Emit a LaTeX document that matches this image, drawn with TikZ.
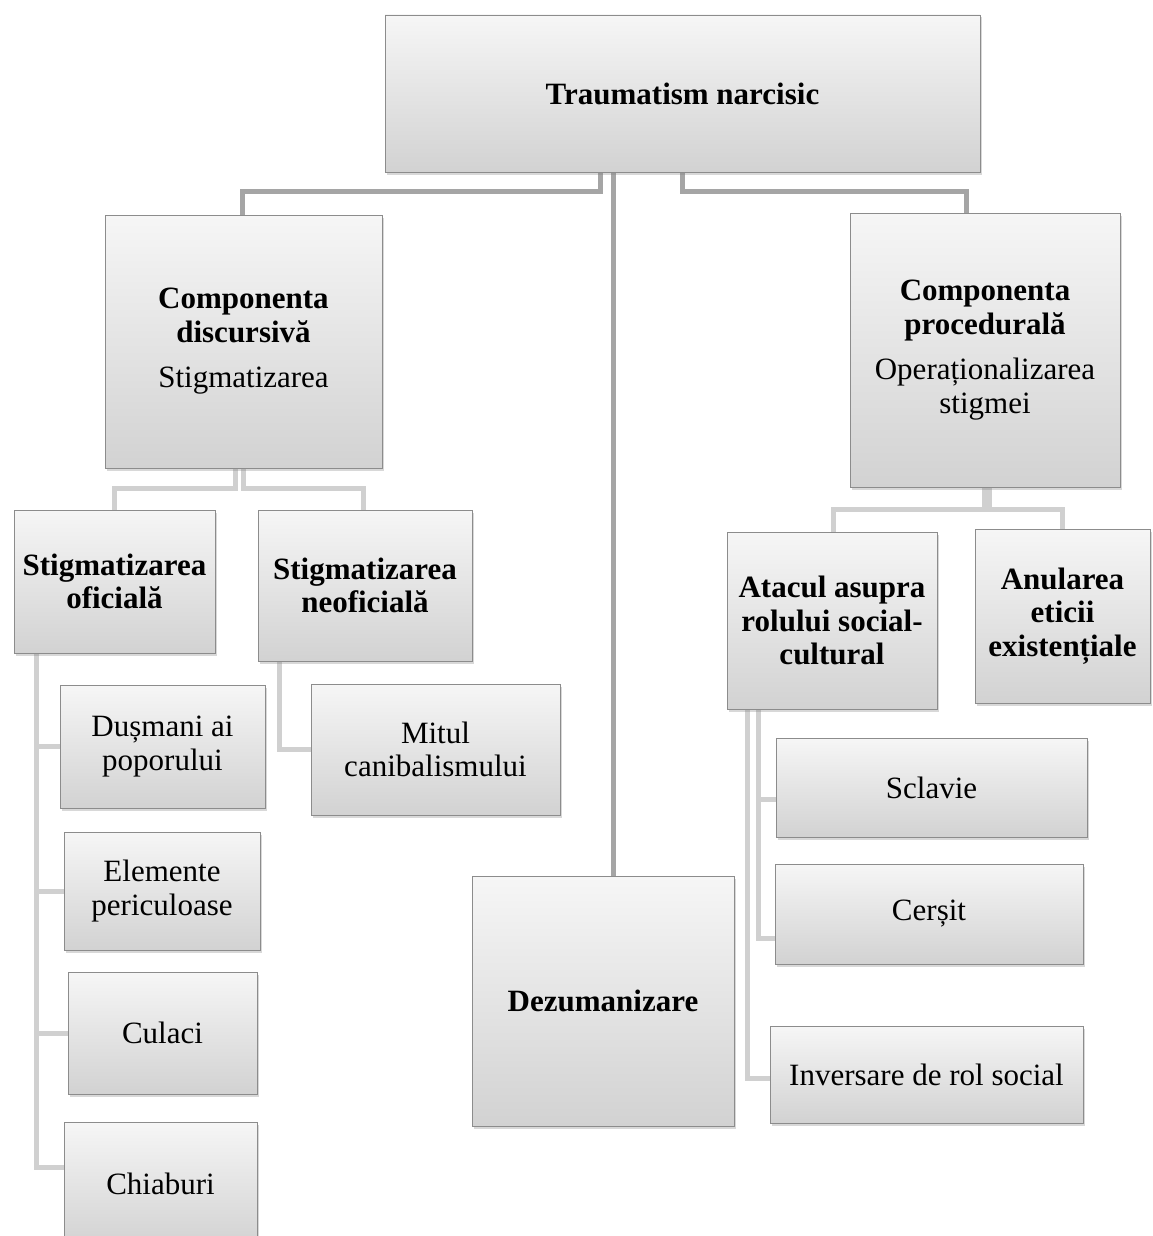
\documentclass[tikz,border=0pt]{standalone}
\usepackage{fontspec}
\setmainfont{Liberation Serif}
\usetikzlibrary{shadows,backgrounds}
\definecolor{boxtop}{RGB}{246,246,246}
\definecolor{boxbot}{RGB}{210,210,210}
\definecolor{boxline}{RGB}{140,140,140}
\definecolor{linkdark}{RGB}{165,165,165}
\definecolor{linklight}{RGB}{208,208,208}
\tikzset{
  hbox/.style={draw=boxline, line width=0.9pt, top color=boxtop, bottom color=boxbot,
    drop shadow={shadow xshift=2pt, shadow yshift=-2.5pt, opacity=0.3},
    align=center, inner sep=2pt, font=\fontsize{31}{33.5}\selectfont},
  hbold/.style={hbox, font=\fontsize{31}{33.5}\selectfont\bfseries},
  toplink/.style={draw=linkdark, line width=5pt},
  sublink/.style={draw=linklight, line width=5pt},
}
\begin{document}
\begin{tikzpicture}[x=1pt,y=-1pt]
\useasboundingbox (0,0) rectangle (1153,1236);
\begin{scope}
\clip (0,0) rectangle (1153,1236);
% top
\node[hbold, minimum width=595pt, minimum height=157pt] (T) at (682.5,93.5) {Traumatism narcisic};
% level 2
\node[hbox, minimum width=277pt, minimum height=253pt] (CD) at (243.5,341.5)
  {\textbf{Componenta}\\\textbf{discursivă}\\[12pt]Stigmatizarea};
\node[hbox, minimum width=270pt, minimum height=274pt] (CP) at (985,350)
  {\textbf{Componenta}\\\textbf{procedurală}\\[12pt]Operaționalizarea\\stigmei};
\node[hbold, minimum width=262pt, minimum height=250pt] (DZ) at (603,1001) {Dezumanizare};
% level 3 left
\node[hbold, minimum width=201pt, minimum height=143pt] (SO) at (114.5,581.5) {Stigmatizarea\\oficială};
\node[hbold, minimum width=214pt, minimum height=151pt] (SN) at (365,585.5) {Stigmatizarea\\neoficială};
% level 3 right
\node[hbold, minimum width=210pt, minimum height=177pt] (AT) at (832,620.5) {Atacul asupra\\rolului social-\\cultural};
\node[hbold, minimum width=175pt, minimum height=174pt] (AN) at (1062.5,616) {Anularea\\eticii\\existențiale};
% leaves
\node[hbox, minimum width=205pt, minimum height=123pt] (DP) at (162.5,746.5) {Dușmani ai\\poporului};
\node[hbox, minimum width=196pt, minimum height=118pt] (EP) at (162,891) {Elemente\\periculoase};
\node[hbox, minimum width=189pt, minimum height=122pt] (CU) at (162.5,1033) {Culaci};
\node[hbox, minimum width=193pt, minimum height=124pt] (CH) at (160.5,1184) {Chiaburi};
\node[hbox, minimum width=249pt, minimum height=131pt] (MC) at (435.5,749.5) {Mitul\\canibalismului};
\node[hbox, minimum width=311pt, minimum height=99pt] (SC) at (931.5,787.5) {Sclavie};
\node[hbox, minimum width=308pt, minimum height=100pt] (CE) at (929,914) {Cerșit};
\node[hbox, minimum width=313pt, minimum height=97pt] (IN) at (926.5,1074.5) {Inversare de rol social};
\end{scope}
\begin{scope}[on background layer]
\fill[white] (0,0) rectangle (1153,1236);
% from top
\draw[toplink] ([xshift=-82.5pt]T.south) |- ([xshift=-1.5pt,yshift=23pt]CD.north) -- ([xshift=-1.5pt]CD.north);
\draw[toplink] ([xshift=-69pt]T.south) -- ([xshift=-69pt]T.south |- DZ.north);
\draw[toplink] (T.south) |- ([xshift=-19pt,yshift=21pt]CP.north) -- ([xshift=-19pt]CP.north);
% discursiva
\draw[sublink] ([xshift=-8.5pt]CD.south) |- ([yshift=21pt]SO.north) -- (SO.north);
\draw[sublink] ([xshift=-0.5pt]CD.south) |- ([xshift=-2pt,yshift=21pt]SN.north) -- ([xshift=-2pt]SN.north);
% procedurala
\draw[sublink] ([xshift=-1pt]CP.south) |- ([xshift=1pt,yshift=22pt]AT.north) -- ([xshift=1pt]AT.north);
\draw[sublink] ([xshift=4pt]CP.south) |- ([yshift=19pt]AN.north) -- (AN.north);
% oficiala
\draw[sublink] ([xshift=-78.5pt]SO.south) |- (DP.west);
\draw[sublink] ([xshift=-78.5pt]SO.south) |- (EP.west);
\draw[sublink] ([xshift=-78.5pt]SO.south) |- (CU.west);
\draw[sublink] ([xshift=-78.5pt]SO.south) |- ([yshift=17pt]CH.west);
% neoficiala
\draw[sublink] ([xshift=-86pt]SN.south) |- (MC.west);
% atacul
\draw[sublink] ([xshift=-74pt]AT.south) |- ([yshift=-11.5pt]SC.west);
\draw[sublink] ([xshift=-74pt]AT.south) |- ([yshift=-24pt]CE.west);
\draw[sublink] ([xshift=-85pt]AT.south) |- ([yshift=-3.5pt]IN.west);
\end{scope}
\end{tikzpicture}
\end{document}
